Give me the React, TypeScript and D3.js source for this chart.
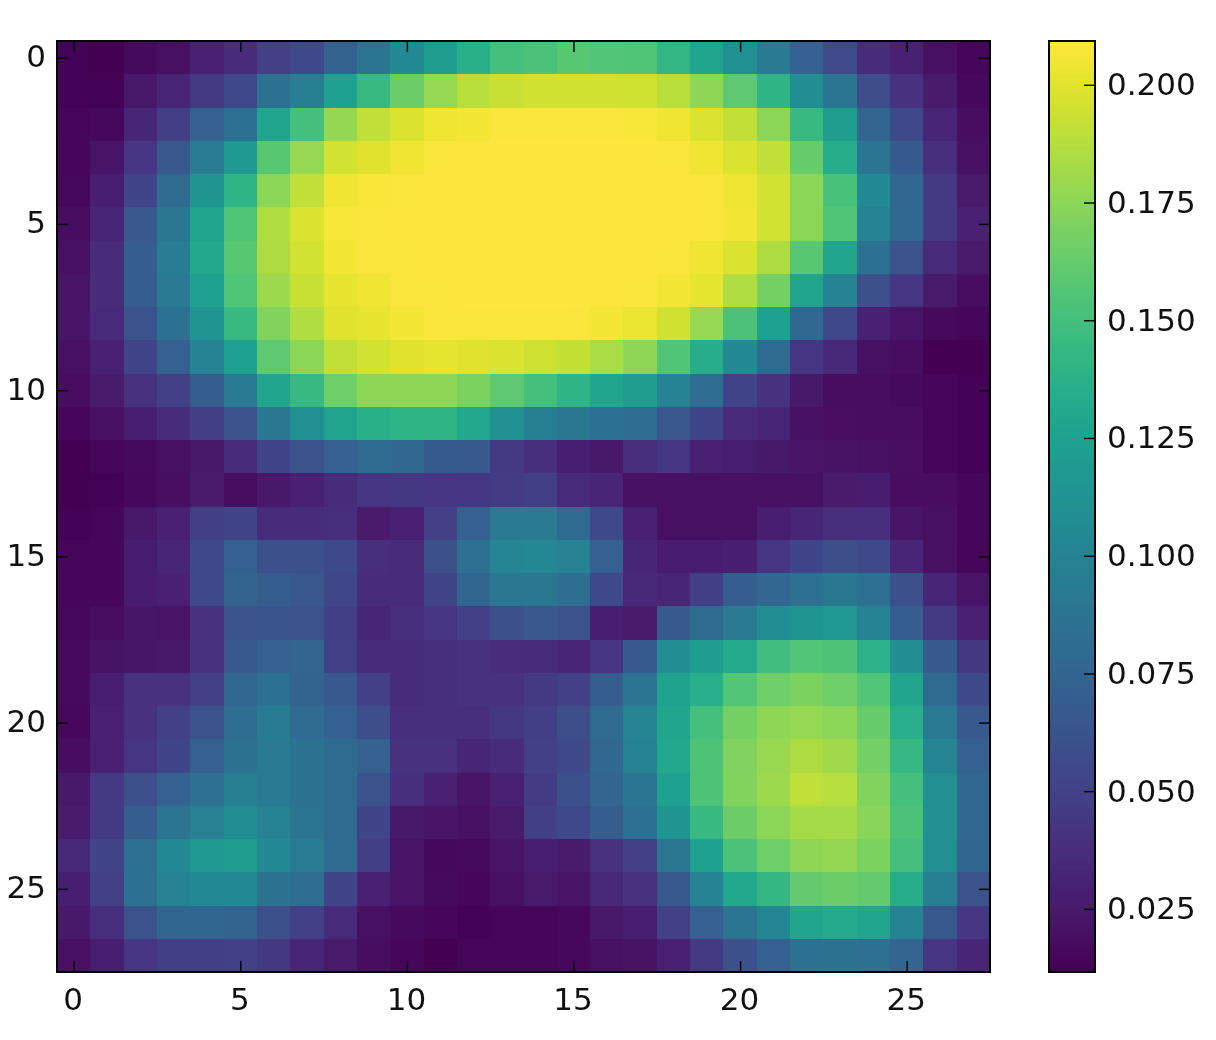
import * as d3 from "d3";
import { useEffect, useRef } from "react";

// cell values, in thousandths, one row per image line
const cellValues: number[][] = [
  [13, 12, 17, 20, 30, 36, 50, 55, 73, 88, 105, 122, 137, 150, 153, 158, 156, 155, 142, 127, 110, 92, 72, 56, 36, 30, 20, 14],
  [13, 13, 24, 32, 45, 55, 85, 97, 125, 145, 165, 178, 188, 193, 195, 195, 195, 194, 188, 176, 160, 140, 108, 88, 58, 40, 26, 16],
  [14, 16, 33, 48, 72, 85, 127, 150, 177, 190, 198, 204, 206, 208, 208, 208, 208, 207, 205, 198, 191, 175, 145, 122, 75, 55, 32, 18],
  [15, 22, 42, 65, 95, 118, 158, 178, 196, 200, 205, 208, 209, 209, 209, 209, 209, 209, 208, 205, 198, 190, 163, 135, 88, 68, 38, 20],
  [16, 28, 52, 80, 115, 140, 175, 190, 205, 207, 208, 209, 209, 209, 209, 209, 209, 209, 209, 208, 205, 196, 175, 152, 105, 78, 45, 25],
  [18, 33, 65, 90, 127, 155, 186, 198, 207, 208, 209, 209, 209, 209, 209, 209, 209, 209, 209, 208, 206, 196, 175, 155, 100, 78, 45, 30],
  [20, 36, 70, 95, 130, 158, 185, 196, 206, 208, 208, 209, 209, 209, 209, 209, 209, 209, 208, 205, 198, 185, 158, 128, 85, 62, 35, 25],
  [22, 36, 70, 92, 125, 155, 180, 193, 202, 205, 208, 208, 209, 209, 209, 209, 209, 208, 206, 201, 186, 168, 127, 100, 60, 42, 26, 18],
  [22, 35, 62, 85, 115, 145, 172, 186, 200, 202, 206, 208, 208, 208, 208, 208, 206, 203, 195, 178, 153, 125, 78, 55, 30, 22, 17, 14],
  [20, 30, 52, 72, 100, 125, 160, 175, 190, 196, 200, 201, 200, 198, 194, 192, 184, 176, 155, 135, 105, 80, 42, 34, 20, 18, 12, 12],
  [18, 26, 40, 50, 70, 92, 128, 145, 166, 176, 176, 176, 170, 160, 150, 140, 128, 122, 100, 82, 52, 40, 24, 18, 18, 17, 15, 13],
  [15, 20, 28, 36, 48, 62, 90, 110, 127, 137, 140, 140, 130, 110, 97, 90, 85, 82, 65, 52, 36, 32, 20, 19, 18, 18, 14, 13],
  [12, 14, 17, 20, 24, 36, 52, 62, 72, 80, 78, 68, 66, 45, 38, 28, 24, 38, 42, 30, 28, 24, 22, 21, 20, 19, 14, 13],
  [12, 13, 16, 19, 26, 18, 24, 30, 36, 42, 44, 42, 42, 46, 48, 35, 32, 20, 20, 20, 20, 20, 20, 26, 27, 18, 18, 15],
  [13, 14, 24, 30, 48, 52, 36, 36, 38, 26, 30, 50, 72, 92, 92, 80, 55, 30, 20, 20, 20, 28, 33, 38, 38, 22, 20, 15],
  [14, 15, 27, 32, 55, 72, 60, 60, 55, 38, 36, 60, 84, 102, 104, 98, 72, 33, 27, 27, 29, 42, 52, 58, 55, 32, 20, 14],
  [15, 15, 27, 30, 55, 74, 70, 65, 54, 36, 36, 52, 76, 90, 90, 82, 55, 34, 32, 48, 70, 77, 84, 90, 84, 60, 33, 22],
  [16, 18, 23, 22, 40, 62, 63, 62, 48, 33, 38, 42, 50, 60, 65, 62, 28, 26, 66, 80, 92, 108, 115, 116, 100, 70, 45, 30],
  [17, 21, 23, 24, 40, 66, 72, 75, 50, 36, 36, 38, 40, 37, 36, 32, 42, 68, 108, 122, 132, 148, 156, 154, 138, 108, 68, 44],
  [17, 28, 40, 40, 50, 78, 85, 74, 66, 50, 36, 38, 40, 40, 45, 50, 70, 88, 126, 136, 156, 166, 170, 166, 156, 128, 80, 55],
  [16, 30, 40, 50, 62, 82, 94, 80, 72, 58, 38, 38, 38, 44, 48, 58, 80, 102, 128, 150, 168, 176, 178, 175, 163, 136, 92, 66],
  [18, 30, 42, 52, 72, 86, 92, 87, 80, 72, 40, 40, 33, 36, 50, 55, 78, 100, 130, 154, 171, 179, 185, 181, 167, 144, 102, 72],
  [24, 45, 60, 72, 84, 96, 92, 86, 80, 62, 38, 30, 22, 30, 46, 60, 75, 88, 125, 154, 172, 180, 190, 187, 172, 150, 110, 78],
  [26, 45, 70, 88, 98, 108, 100, 88, 80, 52, 24, 22, 20, 26, 48, 55, 70, 85, 115, 145, 165, 175, 183, 183, 174, 153, 110, 78],
  [34, 52, 84, 105, 118, 122, 105, 95, 80, 48, 22, 16, 17, 22, 28, 26, 40, 50, 90, 125, 153, 166, 176, 177, 170, 150, 110, 76],
  [28, 50, 85, 98, 105, 105, 86, 82, 52, 30, 22, 17, 15, 20, 25, 22, 34, 40, 66, 100, 130, 143, 162, 165, 162, 135, 96, 62],
  [24, 38, 62, 76, 76, 74, 60, 50, 35, 20, 17, 15, 13, 14, 14, 16, 24, 28, 50, 72, 88, 102, 128, 132, 128, 100, 66, 42],
  [20, 28, 42, 48, 48, 50, 44, 33, 25, 18, 15, 12, 14, 14, 14, 16, 20, 21, 30, 45, 60, 72, 85, 86, 84, 75, 42, 32],
];
const axisTicks = [0, 5, 10, 15, 20, 25];
const colorbarTicks = [0.025, 0.05, 0.075, 0.1, 0.125, 0.15, 0.175, 0.2];
const valueMin = 0.0116;
const valueMax = 0.2093;

// viridis, with the blue lifted a little towards the yellow end like the reference
const softViridis = (t: number) => {
  const c = d3.rgb(d3.interpolateViridis(t));
  c.b = Math.min(255, c.b + 24 * t * t);
  return c.formatRgb();
};

export default function App() {
  const svgRef = useRef<SVGSVGElement>(null);

  useEffect(() => {
    const svg = d3.select(svgRef.current);
    svg.selectAll("*").remove();

    const left = 57, right = 990, top = 41, bottom = 972;
    const barLeft = 1049, barRight = 1095;
    const tickLen = 11;

    const x = d3.scaleLinear().domain([-0.5, 27.5]).range([left, right]);
    const y = d3.scaleLinear().domain([-0.5, 27.5]).range([top, bottom]);
    const color = d3.scaleSequential(softViridis).domain([valueMin, valueMax]);
    const barY = d3.scaleLinear().domain([valueMin, valueMax]).range([bottom, top]);

    // slight softening, the reference is an upscaled raster
    svg.append("defs")
      .append("filter")
      .attr("id", "soft")
      .attr("x", 0).attr("y", 0).attr("width", 1).attr("height", 1)
      .attr("color-interpolation-filters", "sRGB")
      .append("feGaussianBlur")
      .attr("stdDeviation", 0.6);

    const root = svg.append("g").attr("filter", "url(#soft)");
    root.append("rect").attr("width", 1216).attr("height", 1040).attr("fill", "#fff");

    // heatmap cells
    root.append("g")
      .attr("shape-rendering", "crispEdges")
      .selectAll("g")
      .data(cellValues)
      .join("g")
      .selectAll("rect")
      .data((row, r) => row.map((v, c) => ({ v, c, r })))
      .join("rect")
      .attr("x", (d) => x(d.c - 0.5))
      .attr("y", (d) => y(d.r - 0.5))
      .attr("width", x(1) - x(0) + 0.5)
      .attr("height", y(1) - y(0) + 0.5)
      .attr("fill", (d) => color(d.v / 1000));

    // colorbar, one strip per pixel row
    const strips = d3.range(top, bottom);
    root.append("g")
      .attr("shape-rendering", "crispEdges")
      .selectAll("rect")
      .data(strips)
      .join("rect")
      .attr("x", barLeft)
      .attr("y", (d) => d)
      .attr("width", barRight - barLeft)
      .attr("height", 1.5)
      .attr("fill", (d) => color(barY.invert(d + 0.5)));

    const styleAxis = (g: any) => {
      g.select(".domain").remove();
      g.selectAll("line").attr("stroke", "#000").attr("stroke-width", 1.4);
      g.selectAll("text")
        .attr("fill", "#111")
        .style("font-family", "'DejaVu Sans'")
        .style("font-size", "31px");
    };

    root.append("g")
      .attr("transform", `translate(-1,${bottom})`)
      .call(d3.axisBottom(x).tickValues(axisTicks).tickSize(-tickLen).tickPadding(16).tickFormat(d3.format("d")) as any)
      .call(styleAxis)
      .call((g: any) => g.selectAll("line").attr("transform", "translate(1,0)"));
    root.append("g")
      .attr("transform", `translate(0,${top})`)
      .call(d3.axisTop(x).tickValues(axisTicks).tickSize(-tickLen).tickFormat(() => "") as any)
      .call(styleAxis);
    root.append("g")
      .attr("transform", `translate(${left},-1)`)
      .call(d3.axisLeft(y).tickValues(axisTicks).tickSize(-tickLen).tickPadding(11).tickFormat(d3.format("d")) as any)
      .call(styleAxis)
      .call((g: any) => g.selectAll("line").attr("transform", "translate(0,1)"));
    root.append("g")
      .attr("transform", `translate(${right},0)`)
      .call(d3.axisRight(y).tickValues(axisTicks).tickSize(-tickLen).tickFormat(() => "") as any)
      .call(styleAxis);
    root.append("g")
      .attr("transform", `translate(${barRight},0)`)
      .call(d3.axisRight(barY).tickValues(colorbarTicks).tickSize(-tickLen).tickPadding(12).tickFormat(d3.format(".3f")) as any)
      .call(styleAxis);

    // frames
    root.append("rect")
      .attr("x", left).attr("y", top)
      .attr("width", right - left).attr("height", bottom - top)
      .attr("fill", "none").attr("stroke", "#000").attr("stroke-width", 2);
    root.append("rect")
      .attr("x", barLeft).attr("y", top)
      .attr("width", barRight - barLeft).attr("height", bottom - top)
      .attr("fill", "none").attr("stroke", "#000").attr("stroke-width", 2);
  }, []);

  return (
    <svg
      ref={svgRef}
      width={1216}
      height={1040}
      style={{ position: "absolute", left: 0, top: 0, background: "#fff" }}
    />
  );
}
